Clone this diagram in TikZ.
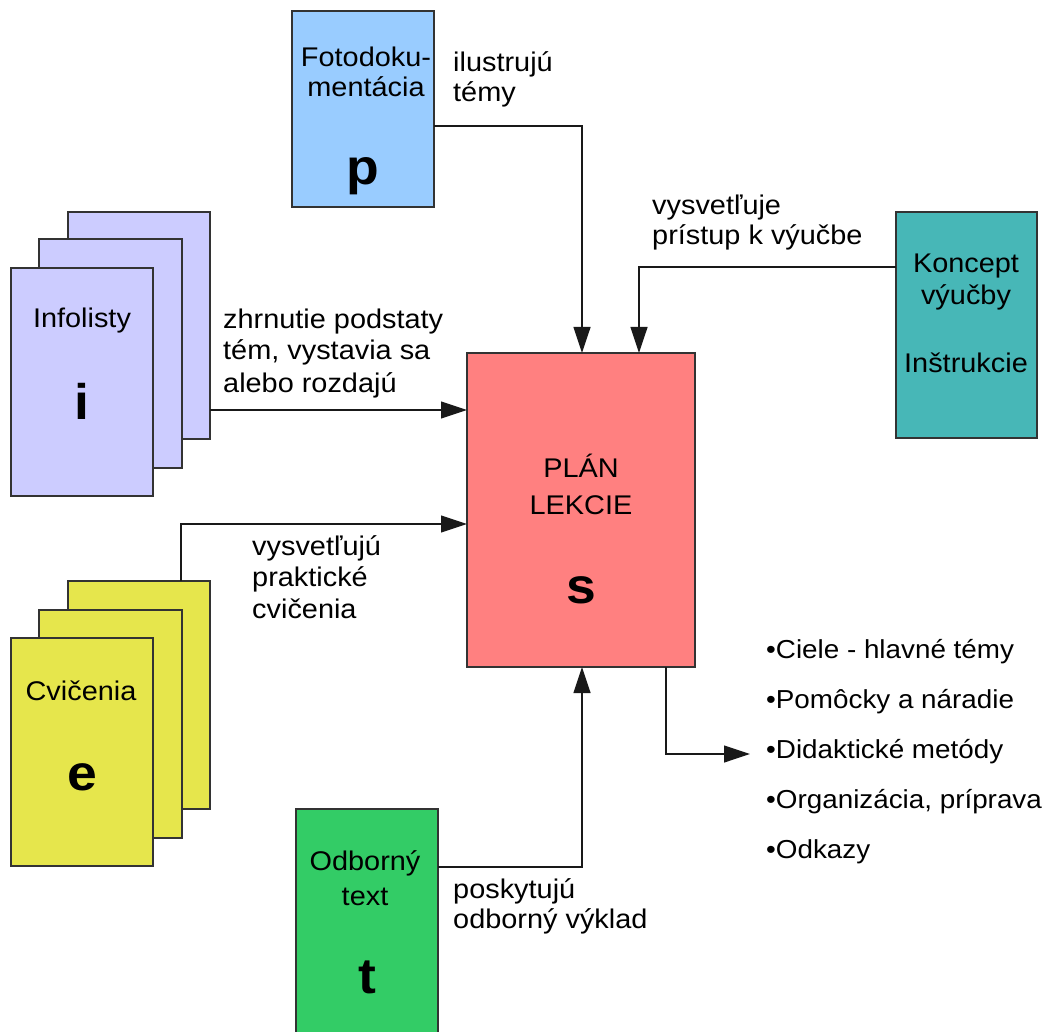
\documentclass[tikz,border=0pt]{standalone}
\usepackage{fontspec}
\setmainfont{Liberation Sans}[FakeStretch=1.07]
\usetikzlibrary{arrows.meta}
\definecolor{cfoto}{HTML}{99CCFF}
\definecolor{cinfo}{HTML}{CCCCFF}
\definecolor{cplan}{HTML}{FF8080}
\definecolor{ckonc}{HTML}{47B7B7}
\definecolor{ccvic}{HTML}{E6E64C}
\definecolor{codb}{HTML}{33CC66}
\definecolor{cline}{HTML}{333333}
\begin{document}
\begin{tikzpicture}[x=1pt,y=-1pt,
  box/.style={draw=cline, line width=1.2pt, inner sep=0pt, outer sep=0pt, anchor=north west},
  lbl/.style={font=\fontsize{27}{31}\selectfont, inner sep=0pt, anchor=base, align=center},
  side/.style={font=\fontsize{27}{31}\selectfont, inner sep=0pt, anchor=base west, align=left},
  big/.style={font=\fontsize{50}{50}\selectfont\bfseries, inner sep=0pt, anchor=base},
  conn/.style={line width=1.2pt, draw=black!90, -{Triangle[length=26pt,width=17pt]}}]
\clip (0,0) rectangle (1053,1032);
\fill[white] (0,0) rectangle (1053,1032);
% boxes
\node[box, fill=cfoto, minimum width=142pt, minimum height=196pt] (foto) at (292,11) {};
\node[box, fill=cplan, minimum width=228pt, minimum height=314pt] (plan) at (467,353) {};
\node[box, fill=ckonc, minimum width=141pt, minimum height=226pt] (konc) at (896,212) {};
\node[box, fill=cinfo, minimum width=142pt, minimum height=227pt] (infoA) at (68,212) {};
\node[box, fill=cinfo, minimum width=143pt, minimum height=229pt] (infoB) at (39,239) {};
\node[box, fill=cinfo, minimum width=142pt, minimum height=228pt] (infoC) at (11,268) {};
\node[box, fill=ccvic, minimum width=142pt, minimum height=228pt] (cvA) at (68,581) {};
\node[box, fill=ccvic, minimum width=143pt, minimum height=228pt] (cvB) at (39,610) {};
\node[box, fill=ccvic, minimum width=142pt, minimum height=228pt] (cvC) at (11,638) {};
\node[box, fill=codb, minimum width=142pt, minimum height=240pt] (odb) at (296,809) {};
% texts inside boxes (anchor base = last line)
\node[lbl, font=\fontsize{27}{30}\selectfont] (tfoto) at (366,97) {Fotodoku-\\mentácia};
\node[big] (lp) at (363,185) {p};
\node[lbl] (tinfo) at (82,328) {Infolisty};
\node[big] (li) at (82,420) {i};
\node[lbl, font=\fontsize{27}{37}\selectfont] (tplan) at (581,514) {PLÁN\\LEKCIE};
\node[big] (ls) at (581,603) {s};
\node[lbl, font=\fontsize{27}{32}\selectfont] (tkonc) at (966,305) {Koncept\\výučby};
\node[lbl] (tinst) at (966,373) {Inštrukcie};
\node[lbl] (tcvic) at (81,700) {Cvičenia};
\node[big] (le) at (82,790) {e};
\node[lbl, font=\fontsize{27}{35}\selectfont] (todb) at (365,905) {Odborný\\text};
\node[big] (lt) at (367,993) {t};
% connector labels
\node[side, font=\fontsize{27}{30}\selectfont] (ailu) at (453,102) {ilustrujú\\témy};
\node[side, font=\fontsize{27}{30}\selectfont] (akon) at (652,245) {vysvetľuje\\prístup k výučbe};
\node[side, font=\fontsize{27}{32}\selectfont] (ainf) at (223,392) {zhrnutie podstaty\\tém, vystavia sa\\alebo rozdajú};
\node[side, font=\fontsize{27}{31.5}\selectfont] (acv) at (252,618) {vysvetľujú\\praktické\\cvičenia};
\node[side, font=\fontsize{27}{30}\selectfont] (aodb) at (453,928) {poskytujú\\odborný výklad};
% output list
\node[side, font=\fontsize{26}{49.8}\selectfont] (list) at (766,858) {•Ciele - hlavné témy\\•Pomôcky a náradie\\•Didaktické metódy\\•Organizácia, príprava\\•Odkazy};
\coordinate (listin) at (750,754);
% connectors
\draw[conn] ([yshift=-17pt]foto.east) -| ([xshift=1pt]plan.north);
\draw[conn] ([yshift=58pt]konc.west) -| ([xshift=58pt]plan.north);
\draw[conn] ([yshift=100pt]plan.west -| infoA.east) -- ([yshift=100pt]plan.west);
\draw[conn] ([xshift=42pt]cvA.north) |- ([yshift=-14pt]plan.west);
\draw[conn] ([yshift=62pt]odb.east) -| ([xshift=1pt]plan.south);
\draw[conn] ([xshift=85pt]plan.south) |- (listin);
\end{tikzpicture}
\end{document}
